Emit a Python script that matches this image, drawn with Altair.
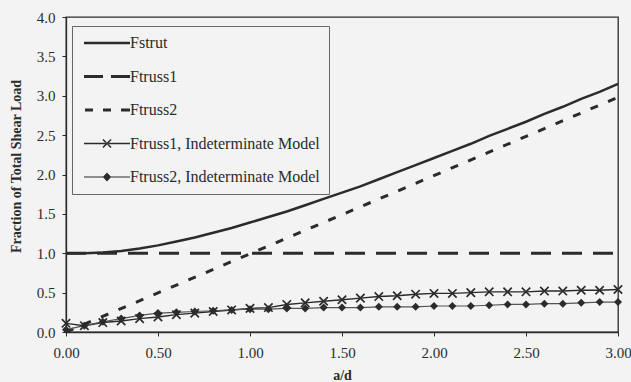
import altair as alt
import pandas as pd

INK = "#2b2b2b"
BG = "#f3f3f3"
SERIF = "Liberation Serif"

# ---- data ----
a_d = [0.0, 0.1, 0.2, 0.3, 0.4, 0.5, 0.6, 0.7, 0.8, 0.9, 1.0,
       1.1, 1.2, 1.3, 1.4, 1.5, 1.6, 1.7, 1.8, 1.9, 2.0,
       2.1, 2.2, 2.3, 2.4, 2.5, 2.6, 2.7, 2.8, 2.9, 3.0]
fstrut = [1.00, 1.00, 1.01, 1.03, 1.06, 1.10, 1.15, 1.20, 1.26, 1.32, 1.39,
          1.46, 1.53, 1.61, 1.69, 1.77, 1.85, 1.94, 2.03, 2.12, 2.21,
          2.30, 2.39, 2.49, 2.58, 2.67, 2.77, 2.86, 2.96, 3.05, 3.15]
ftruss1_x = [0.0, 3.0]
ftruss1 = [1.0, 1.0]
ftruss2_x = [0.0, 3.0]
ftruss2 = [0.0, 2.98]
ftruss1_ind = [0.11, 0.08, 0.12, 0.14, 0.17, 0.19, 0.22, 0.24, 0.26, 0.28, 0.30,
               0.31, 0.35, 0.37, 0.39, 0.41, 0.43, 0.45, 0.46, 0.48, 0.49,
               0.49, 0.50, 0.51, 0.51, 0.51, 0.52, 0.52, 0.53, 0.53, 0.54]
ftruss2_ind = [0.03, 0.08, 0.13, 0.17, 0.21, 0.24, 0.25, 0.26, 0.27, 0.28, 0.29,
               0.29, 0.30, 0.30, 0.31, 0.31, 0.31, 0.32, 0.32, 0.32, 0.33,
               0.33, 0.33, 0.34, 0.35, 0.35, 0.36, 0.36, 0.37, 0.38, 0.38]
series = ["Fstrut", "Ftruss1", "Ftruss2",
          "Ftruss1, Indeterminate Model", "Ftruss2, Indeterminate Model"]
x_ticks = [0.0, 0.5, 1.0, 1.5, 2.0, 2.5, 3.0]
y_ticks = [0.0, 0.5, 1.0, 1.5, 2.0, 2.5, 3.0, 3.5, 4.0]

rows = []
for x, v in zip(a_d, fstrut):
    rows.append({"a_d": x, "value": v, "series": series[0]})
for x, v in zip(ftruss1_x, ftruss1):
    rows.append({"a_d": x, "value": v, "series": series[1]})
for x, v in zip(ftruss2_x, ftruss2):
    rows.append({"a_d": x, "value": v, "series": series[2]})
for x, v in zip(a_d, ftruss1_ind):
    rows.append({"a_d": x, "value": v, "series": series[3]})
for x, v in zip(a_d, ftruss2_ind):
    rows.append({"a_d": x, "value": v, "series": series[4]})
df = pd.DataFrame(rows)

X = alt.X("a_d:Q", scale=alt.Scale(domain=[0, 3], nice=False, zero=False),
          axis=alt.Axis(values=x_ticks, format=".2f", title="a/d", grid=False,
                        labelFlush=False))
Y = alt.Y("value:Q", scale=alt.Scale(domain=[0, 4], nice=False),
          axis=alt.Axis(values=y_ticks, format=".1f",
                        title="Fraction of Total Shear Load", grid=False,
                        labelFlush=False, titleY=149))

base = alt.Chart(df).encode(x=X, y=Y)


def only(name):
    return alt.datum.series == name


strut = base.transform_filter(only(series[0])).mark_line(color=INK, strokeWidth=2.5)
truss1 = base.transform_filter(only(series[1])).mark_line(
    color=INK, strokeWidth=3, strokeDash=[20, 11])
truss2 = base.transform_filter(only(series[2])).mark_line(
    color=INK, strokeWidth=3, strokeDash=[8, 11])
ind1_line = base.transform_filter(only(series[3])).mark_line(color=INK, strokeWidth=1.4)
ind1_pts = base.transform_filter(only(series[3])).mark_point(
    shape="M-1,-1L1,1M-1,1L1,-1", size=70, color=INK, strokeWidth=1.7, filled=False, opacity=1)
ind2_line = base.transform_filter(only(series[4])).mark_line(color="#555555", strokeWidth=1.2)
ind2_pts = base.transform_filter(only(series[4])).mark_point(
    shape="diamond", size=64, color=INK, filled=True, opacity=1)

# legend glyphs (filled outlines, unit = sqrt(size)/2 px)
legend_paths = [
    "M-3,-0.16H3V0.16H-3Z",
    "M-3,-0.2H-0.52V0.2H-3ZM0.52,-0.2H3V0.2H0.52Z",
    "M-2.87,-0.2H-1.83V0.2H-2.87ZM-0.52,-0.2H0.52V0.2H-0.52ZM1.83,-0.2H3V0.2H1.83Z",
    "M-3,-0.09H3V0.09H-3ZM-0.6,-0.46L0.46,0.6L0.6,0.46L-0.46,-0.6ZM-0.6,0.46L0.46,-0.6L0.6,-0.46L-0.46,0.6Z",
    "M-3,-0.07H3V0.07H-3ZM0,-0.6L0.55,0L0,0.6L-0.55,0Z",
]
legend_df = pd.DataFrame({"series": series})
legend_layer = alt.Chart(legend_df).transform_filter("false").mark_point(
    filled=True, size=235, color=INK, strokeWidth=0, opacity=1
).encode(
    shape=alt.Shape("series:N",
                    scale=alt.Scale(domain=series, range=legend_paths),
                    legend=alt.Legend(
                        title=None, orient="none", legendX=6, legendY=9,
                        strokeColor="#666666", fillColor=BG, padding=9,
                        rowPadding=17.5, symbolOffset=18, labelOffset=15,
                        symbolSize=235, symbolStrokeWidth=0,
                        symbolFillColor=INK,
                        labelFont=SERIF, labelFontSize=16, labelColor=INK,
                        labelLimit=400))
)

chart = alt.layer(
    strut, truss1, truss2, ind1_line, ind2_line, ind1_pts, ind2_pts, legend_layer
).properties(
    width=552, height=315,
    autosize=alt.AutoSizeParams(type="none"),
    padding={"left": 66, "top": 17, "right": 13, "bottom": 50},
    background=BG,
).configure_view(
    stroke=INK, strokeWidth=1.3, fill=BG
).configure_axis(
    domainColor=INK, domainWidth=1.3, tickColor=INK, tickSize=4, tickWidth=1,
    labelFont=SERIF, labelFontSize=15, labelColor=INK,
    titleFont=SERIF, titleFontSize=14, titleFontWeight="bold", titleColor=INK,
).configure_axisX(
    labelPadding=9, titlePadding=8,
).configure_axisY(
    labelPadding=7, titlePadding=13,
)

chart.save("out.html", embed_options={"renderer": "svg", "actions": False})
